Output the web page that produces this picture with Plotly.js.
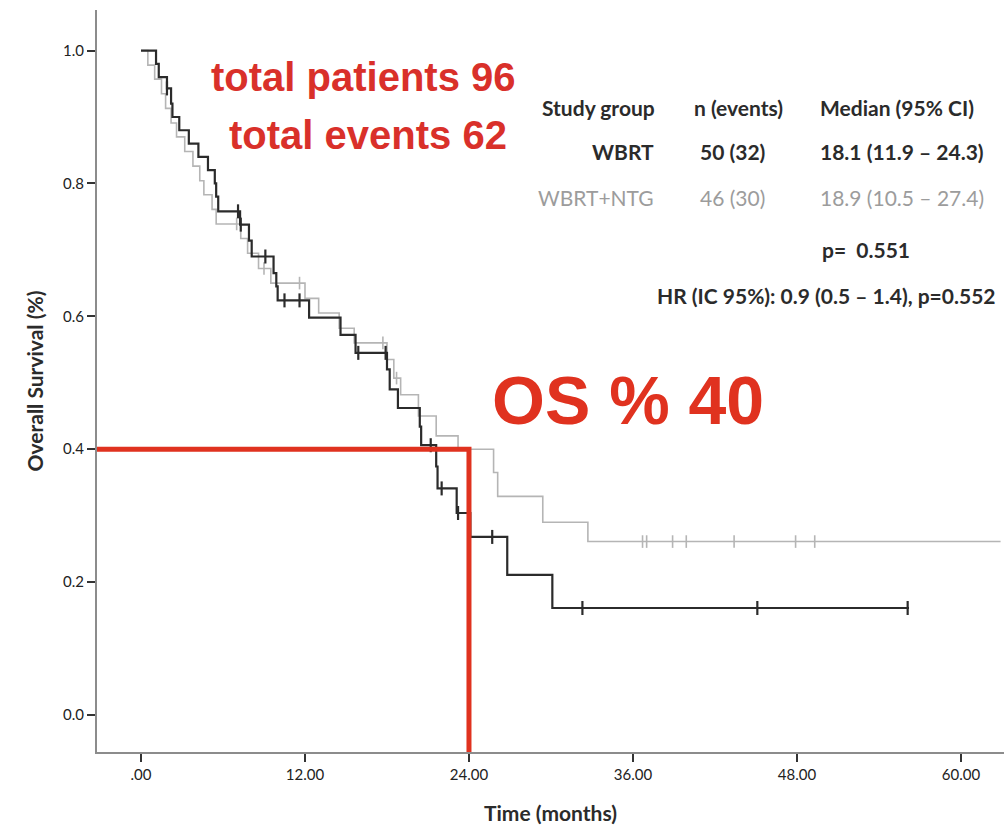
<!DOCTYPE html>
<html>
<head>
<meta charset="utf-8">
<script src="https://cdn.plot.ly/plotly-3.0.1.min.js"></script>
<style>html,body{margin:0;padding:0;background:#fff;}#chart{width:1004px;height:830px;}</style>
</head>
<body>
<div id="chart"></div>
<script>
// ---- Data ----
// WBRT (black) Kaplan-Meier step curve: time of each step (months) and survival after it
const wbrtTime = [0, 1.1, 1.3, 1.9, 2.2, 2.3, 2.8, 3.5, 4.2, 4.9, 5.4, 5.5, 5.65, 7.25, 7.9, 8.1, 9.7, 9.9, 10.0, 12.3, 14.6, 15.7, 18.0, 18.2, 18.8, 20.4, 20.5, 21.6, 21.7, 23.1, 24.1, 26.8, 30.1, 56.2];
const wbrtSurv = [1.0, 0.98, 0.96, 0.943, 0.92, 0.90, 0.88, 0.86, 0.84, 0.82, 0.80, 0.78, 0.758, 0.738, 0.714, 0.69, 0.665, 0.645, 0.624, 0.598, 0.572, 0.545, 0.52, 0.49, 0.462, 0.434, 0.406, 0.374, 0.341, 0.304, 0.268, 0.211, 0.161, 0.161];
const wbrtCensTime = [1.9, 7.1, 7.3, 9.1, 10.5, 11.6, 15.9, 17.9, 21.2, 22.0, 23.2, 25.7, 32.3, 45.1, 56.1];
const wbrtCensSurv = [0.943, 0.758, 0.738, 0.69, 0.624, 0.624, 0.545, 0.545, 0.406, 0.341, 0.304, 0.268, 0.161, 0.161, 0.161];

// WBRT+NTG (grey) Kaplan-Meier step curve
const ntgTime = [0, 0.5, 1.0, 1.5, 1.8, 2.2, 2.6, 3.2, 3.8, 4.3, 4.6, 5.2, 5.5, 7.3, 7.8, 8.6, 9.5, 12.0, 13.0, 14.5, 15.6, 18.0, 18.5, 19.0, 20.3, 21.6, 23.2, 25.8, 26.1, 29.4, 32.7, 62.9];
const ntgSurv = [1.0, 0.978, 0.957, 0.935, 0.913, 0.891, 0.87, 0.848, 0.826, 0.804, 0.783, 0.761, 0.739, 0.717, 0.695, 0.672, 0.65, 0.627, 0.605, 0.582, 0.56, 0.535, 0.507, 0.482, 0.45, 0.42, 0.40, 0.365, 0.329, 0.29, 0.261, 0.261];
const ntgCensTime = [7.0, 9.0, 11.6, 17.7, 18.7, 36.7, 37.0, 38.9, 39.9, 43.4, 47.9, 49.3];
const ntgCensSurv = [0.739, 0.672, 0.65, 0.56, 0.507, 0.261, 0.261, 0.261, 0.261, 0.261, 0.261, 0.261];

// Reference marker: OS 40% at 24 months
const refTime = 24;
const refSurv = 0.4;

// Axis ticks
const xTickVals = [0, 12, 24, 36, 48, 60];
const xTickText = ['.00', '12.00', '24.00', '36.00', '48.00', '60.00'];
const yTickVals = [0, 0.2, 0.4, 0.6, 0.8, 1.0];
const yTickText = ['0.0', '0.2', '0.4', '0.6', '0.8', '1.0'];

// Summary table
const tableHeaders = ['Study group', 'n (events)', 'Median (95% CI)'];
const groupNames = ['WBRT', 'WBRT+NTG'];
const groupN = ['50 (32)', '46 (30)'];
const groupMedian = ['18.1 (11.9 \u2013 24.3)', '18.9 (10.5 \u2013 27.4)'];
const pText = 'p=  0.551';
const hrText = 'HR (IC 95%): 0.9 (0.5 \u2013 1.4), p=0.552';
const totalsText = ['total patients 96', 'total events 62'];
const osText = 'OS % 40';

// ---- Layout helpers ----
const ML = 97, MR = 0, MT = 10, MB = 78, W = 1004, H = 830;
const PW = W - ML - MR, PH = H - MT - MB;
const px = x => (x - ML) / PW;
const py = y => (H - MB - y) / PH;
const xRange = [-3.22, 63.15];
const yRange = [-0.0557, 1.061];

const dark = '#2b2b2b', grey = '#b5b5b5', red = '#e0321f';
const tFont = 'Lato, "Open Sans", sans-serif';

const traces = [
  {x: ntgTime, y: ntgSurv, mode: 'lines', line: {shape: 'hv', color: grey, width: 1.6}, hoverinfo: 'skip'},
  {x: ntgCensTime, y: ntgCensSurv, mode: 'markers', marker: {symbol: 'line-ns-open', size: 9, color: grey, line: {color: grey, width: 1.6}}, hoverinfo: 'skip'},
  {x: wbrtTime, y: wbrtSurv, mode: 'lines', line: {shape: 'hv', color: dark, width: 2.2}, hoverinfo: 'skip'},
  {x: wbrtCensTime, y: wbrtCensSurv, mode: 'markers', marker: {symbol: 'line-ns-open', size: 10, color: dark, line: {color: dark, width: 2.2}}, hoverinfo: 'skip'},
  {x: [xRange[0], refTime, refTime], y: [refSurv, refSurv, yRange[0]], mode: 'lines', line: {color: red, width: 5}, hoverinfo: 'skip'}
];

const ann = [];
function addText(text, x, y, opts) {
  ann.push(Object.assign({xref: 'paper', yref: 'paper', x: px(x), y: py(y), text: text, showarrow: false,
    xanchor: 'left', yanchor: 'middle', font: {family: tFont, size: 21, color: dark}}, opts || {}));
}
const bold = s => '<b>' + s + '</b>';
// table
addText(bold(tableHeaders[0]), 657, 107, {xanchor: 'right'});
addText(bold(tableHeaders[1]), 738, 107, {xanchor: 'center'});
addText(bold(tableHeaders[2]), 818, 107, {xanchor: 'left'});
const rowY = [151, 198];
const rowCol = [dark, '#9c9c9c'];
for (let i = 0; i < groupNames.length; i++) {
  const f = {family: tFont, size: 21, color: rowCol[i]};
  addText(i === 0 ? bold(groupNames[i]) : groupNames[i], 656, rowY[i], {xanchor: 'right', font: f});
  addText(i === 0 ? bold(groupN[i]) : groupN[i], 732, rowY[i], {xanchor: 'center', font: f});
  addText(i === 0 ? bold(groupMedian[i]) : groupMedian[i], 818, rowY[i], {xanchor: 'left', font: f});
}
addText(bold(pText), 820, 249, {xanchor: 'left'});
addText(bold(hrText), 655, 295, {xanchor: 'left'});
// red labels
const redFam = '"Liberation Sans Narrow", "Liberation Sans", Arial, sans-serif';
addText(bold(totalsText[0]), 363, 77, {xanchor: 'center', font: {family: redFam, size: 40, color: '#d9302a'}});
addText(bold(totalsText[1]), 368, 135, {xanchor: 'center', font: {family: redFam, size: 40, color: '#d9302a'}});
addText(bold(osText), 490, 400, {xanchor: 'left', font: {family: redFam, size: 68, color: red}});

const layout = {
  width: W, height: H,
  margin: {l: ML, r: MR, t: MT, b: MB, pad: 0},
  paper_bgcolor: '#fff', plot_bgcolor: '#fff',
  showlegend: false,
  xaxis: {
    range: xRange, showgrid: false, zeroline: false,
    showline: true, linecolor: '#8c8c8c', linewidth: 2,
    ticks: 'outside', ticklen: 8, tickwidth: 2, tickcolor: '#333',
    tickvals: xTickVals, ticktext: xTickText,
    tickfont: {family: tFont, size: 15, color: '#222'},
    title: {text: '<b>Time (months)</b>', font: {family: tFont, size: 21, color: dark}, standoff: 24}
  },
  yaxis: {
    range: yRange, showgrid: false, zeroline: false,
    showline: true, linecolor: '#8c8c8c', linewidth: 2,
    ticks: 'outside', ticklen: 8, tickwidth: 2, tickcolor: '#333',
    tickvals: yTickVals, ticktext: yTickText,
    tickfont: {family: tFont, size: 15, color: '#222'},
    title: {text: '<b>Overall Survival (%)</b>', font: {family: tFont, size: 21, color: dark}, standoff: 14}
  },
  annotations: ann
};

Plotly.newPlot('chart', traces, layout, {staticPlot: true, displayModeBar: false});
</script>
</body>
</html>
